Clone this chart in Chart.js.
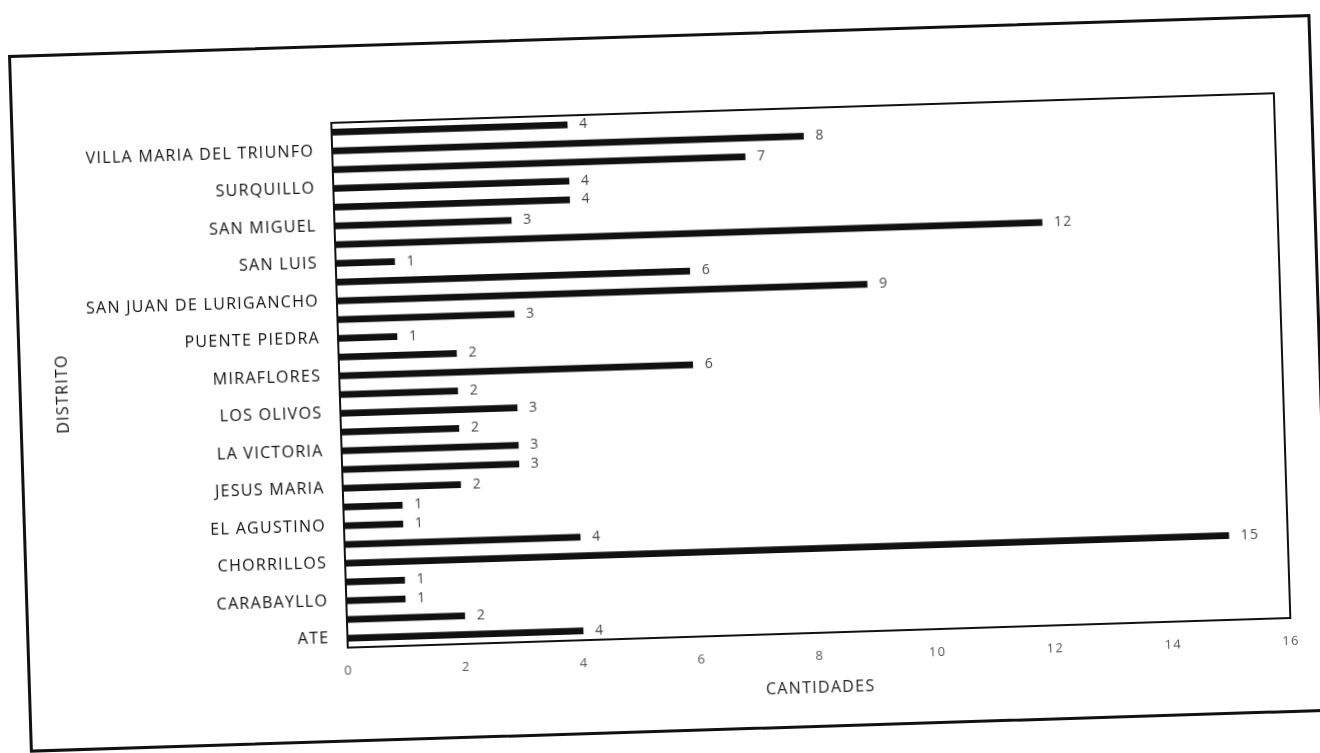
<!DOCTYPE html>
<html>
<head>
<meta charset="utf-8">
<script src="https://cdn.jsdelivr.net/npm/chart.js@4"></script>
<style>
  html, body { margin: 0; padding: 0; background: #fff; width: 1320px; height: 753px; overflow: hidden; }
  #frame {
    position: absolute; left: 8px; top: 55px;
    width: 1303px; height: 698px;
    box-sizing: border-box; border: 3px solid #111;
    transform-origin: 0 0; transform: rotate(-1.8deg);
    background: #fff;
  }
  #distChart { display: block; }
</style>
</head>
<body>
<div id="frame">
  <canvas id="distChart" width="1297" height="692"></canvas>
</div>
<script>
// distritos (de abajo hacia arriba), solo se ve uno de cada dos nombres
const distritos = [
  "ATE", "", "CARABAYLLO", "", "CHORRILLOS", "", "EL AGUSTINO", "",
  "JESUS MARIA", "", "LA VICTORIA", "", "LOS OLIVOS", "", "MIRAFLORES", "",
  "PUENTE PIEDRA", "", "SAN JUAN DE LURIGANCHO", "", "SAN LUIS", "",
  "SAN MIGUEL", "", "SURQUILLO", "", "VILLA MARIA DEL TRIUNFO", ""
];
const cantidades = [4, 2, 1, 1, 15, 4, 1, 1, 2, 3, 3, 2, 3, 2, 6, 2, 1, 3, 9, 6, 1, 12, 3, 4, 4, 7, 8, 4];
const ejeX = [0, 2, 4, 6, 8, 10, 12, 14, 16];

const fontFam = "'Open Sans', 'DejaVu Sans', sans-serif";

// espaciado de letras como en el original
const spacing = {
  id: "spacing",
  beforeDraw(chart) {
    chart.ctx.letterSpacing = "1.3px";
  }
};

// numeros al final de cada barra
const valores = {
  id: "valores",
  afterDatasetsDraw(chart) {
    const ctx = chart.ctx;
    const meta = chart.getDatasetMeta(0);
    ctx.save();
    ctx.font = "14px " + fontFam;
    ctx.fillStyle = "#444";
    ctx.textAlign = "left";
    ctx.textBaseline = "middle";
    meta.data.forEach((bar, i) => {
      ctx.fillText(String(cantidades[i]), bar.x + 12, bar.y);
    });
    ctx.restore();
  }
};

// recuadro del area del grafico
const recuadro = {
  id: "recuadro",
  afterDraw(chart) {
    const a = chart.chartArea;
    const ctx = chart.ctx;
    ctx.save();
    ctx.strokeStyle = "#111";
    ctx.lineWidth = 2;
    ctx.strokeRect(a.left, a.top, a.right - a.left, a.bottom - a.top);
    ctx.restore();
  }
};

new Chart(document.getElementById("distChart"), {
  type: "bar",
  data: {
    labels: distritos,
    datasets: [{
      label: "Cantidades",
      data: cantidades,
      backgroundColor: "#111",
      barThickness: 6
    }]
  },
  options: {
    responsive: false,
    animation: false,
    indexAxis: "y",
    layout: { padding: { left: 0, top: 75, right: 36, bottom: 12 } },
    plugins: {
      legend: { display: false },
      tooltip: { enabled: false }
    },
    scales: {
      x: {
        min: 0,
        max: 16,
        afterFit: s => { s.height = 80; },
        afterBuildTicks: s => { s.ticks = ejeX.map(v => ({ value: v })); },
        grid: { display: false, drawTicks: false },
        border: { display: false },
        ticks: { padding: 15, color: "#555", font: { family: fontFam, size: 13 } },
        title: {
          display: true,
          text: "CANTIDADES",
          color: "#222",
          font: { family: fontFam, size: 16 },
          padding: { top: 0, bottom: 15 }
        }
      },
      y: {
        reverse: true,
        afterFit: s => { s.width = 318; },
        grid: { display: false, drawTicks: false },
        border: { display: false },
        ticks: {
          autoSkip: false,
          padding: 18,
          color: "#111",
          font: { family: fontFam, size: 16 }
        },
        title: {
          display: true,
          text: "DISTRITO",
          color: "#111",
          font: { family: fontFam, size: 16 },
          padding: { top: 32, bottom: 0 }
        }
      }
    }
  },
  plugins: [spacing, valores, recuadro]
});
</script>
</body>
</html>
